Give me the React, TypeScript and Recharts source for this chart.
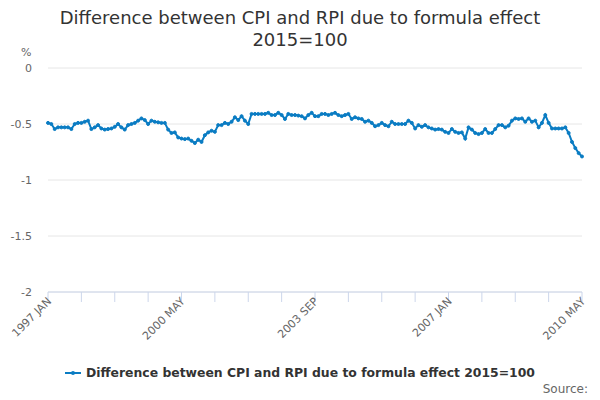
// App.tsx
// Line chart: difference between CPI and RPI due to formula effect, monthly 1997-2010.
import { CartesianGrid, Line, LineChart, XAxis, YAxis } from "recharts";

const START_YEAR = 1997;
const MONTHS = ["JAN", "FEB", "MAR", "APR", "MAY", "JUN", "JUL", "AUG", "SEP", "OCT", "NOV", "DEC"];

// monthly values, 1997 JAN .. 2010 MAY
const VALUES = [
  -0.49, -0.5, -0.545, -0.53, -0.53, -0.53, -0.53, -0.545, -0.5, -0.49,
  -0.49, -0.48, -0.47, -0.545, -0.53, -0.51, -0.54, -0.55, -0.545, -0.54,
  -0.525, -0.5, -0.53, -0.55, -0.51, -0.5, -0.49, -0.47, -0.45, -0.465,
  -0.5, -0.47, -0.48, -0.485, -0.49, -0.49, -0.55, -0.58, -0.575, -0.62,
  -0.63, -0.635, -0.63, -0.65, -0.67, -0.64, -0.66, -0.6, -0.575, -0.56,
  -0.57, -0.51, -0.51, -0.49, -0.5, -0.48, -0.44, -0.465, -0.43, -0.47,
  -0.5, -0.41, -0.41, -0.41, -0.41, -0.41, -0.4, -0.42, -0.42, -0.4,
  -0.42, -0.455, -0.41, -0.42, -0.42, -0.425, -0.43, -0.45, -0.42, -0.4,
  -0.43, -0.43, -0.41, -0.41, -0.42, -0.41, -0.4, -0.42, -0.43, -0.42,
  -0.41, -0.455, -0.44, -0.45, -0.455, -0.48, -0.47, -0.49, -0.52, -0.51,
  -0.49, -0.51, -0.52, -0.48, -0.5, -0.5, -0.5, -0.5, -0.47, -0.49,
  -0.54, -0.51, -0.525, -0.51, -0.53, -0.54, -0.55, -0.545, -0.55, -0.57,
  -0.58, -0.545, -0.57, -0.58, -0.575, -0.63, -0.53, -0.55, -0.58, -0.59,
  -0.58, -0.545, -0.58, -0.58, -0.545, -0.51, -0.51, -0.53, -0.515, -0.47,
  -0.45, -0.455, -0.45, -0.48, -0.45, -0.48, -0.47, -0.53, -0.49, -0.42,
  -0.49, -0.54, -0.54, -0.54, -0.54, -0.53, -0.58, -0.66, -0.715, -0.76,
  -0.79,
];

const TICK_LABELS = ["1997 JAN", "2000 MAY", "2003 SEP", "2007 JAN", "2010 MAY"];
const Y_TICKS = [0, -0.5, -1, -1.5, -2];

const SERIES_NAME = "Difference between CPI and RPI due to formula effect 2015=100";
const LINE_COLOR = "#0a7cc3";
const FONT = "'DejaVu Sans', sans-serif";

const data = VALUES.map((v, i) => ({
  idx: i,
  label: `${START_YEAR + Math.floor(i / 12)} ${MONTHS[i % 12]}`,
  value: v,
}));

const xTicks = data.filter((d) => d.idx % 10 === 0).map((d) => d.idx);

function XTick({ x, y, payload }: any) {
  const label = data[payload.value]?.label;
  if (!TICK_LABELS.includes(label)) return null;
  return (
    <text
      x={x + 4}
      y={y - 2}
      transform={`rotate(-45 ${x + 4} ${y - 2})`}
      textAnchor="end"
      fontSize={11}
      fill="#666"
      fontFamily={FONT}
    >
      {label}
    </text>
  );
}

function YTick({ y, payload }: any) {
  return (
    <text x={32} y={y} dy={4} textAnchor="end" fontSize={11} fill="#666" fontFamily={FONT}>
      {String(payload.value)}
    </text>
  );
}

function ChartLegend() {
  return (
    <div
      style={{
        position: "absolute",
        top: 365,
        left: 0,
        width: 600,
        display: "flex",
        justifyContent: "center",
        alignItems: "center",
        fontFamily: FONT,
        fontSize: 12.4,
        fontWeight: "bold",
        color: "#333",
      }}
    >
      <svg width={16} height={10} style={{ marginRight: 5 }}>
        <line x1={0} y1={5} x2={16} y2={5} stroke={LINE_COLOR} strokeWidth={2} />
        <circle cx={8} cy={5} r={2} fill={LINE_COLOR} />
      </svg>
      {SERIES_NAME}
    </div>
  );
}

export default function App() {
  return (
    <div style={{ position: "absolute", top: 0, left: 0, width: 600, height: 400, background: "#fff" }}>
      <div
        style={{
          position: "absolute",
          top: 7,
          left: 0,
          width: 600,
          textAlign: "center",
          fontFamily: FONT,
          fontSize: 18,
          lineHeight: "22px",
          color: "#333",
        }}
      >
        Difference between CPI and RPI due to formula effect
        <br />
        2015=100
      </div>
      <div style={{ position: "absolute", top: 46, left: 21, fontFamily: FONT, fontSize: 11, color: "#666" }}>
        %
      </div>
      <LineChart width={600} height={400} data={data} margin={{ top: 68, right: 18, bottom: 78, left: 0 }}>
        <CartesianGrid vertical={false} stroke="#e6e6e6" />
        <XAxis
          dataKey="idx"
          type="number"
          domain={[0, VALUES.length - 1]}
          ticks={xTicks}
          interval={0}
          height={30}
          tick={<XTick />}
          tickSize={10}
          tickLine={{ stroke: "#ccd6eb" }}
          axisLine={{ stroke: "#ccd6eb" }}
        />
        <YAxis
          domain={[-2, 0]}
          ticks={Y_TICKS}
          width={48}
          axisLine={false}
          tickLine={false}
          tick={<YTick />}
        />
        <Line
          type="linear"
          dataKey="value"
          name={SERIES_NAME}
          stroke={LINE_COLOR}
          strokeWidth={2}
          dot={{ r: 1.5, fill: LINE_COLOR, stroke: LINE_COLOR, strokeWidth: 1 }}
          isAnimationActive={false}
        />
      </LineChart>
      <ChartLegend />
      <div style={{ position: "absolute", top: 382, right: 12, fontFamily: FONT, fontSize: 12, color: "#666" }}>
        Source:
      </div>
    </div>
  );
}
